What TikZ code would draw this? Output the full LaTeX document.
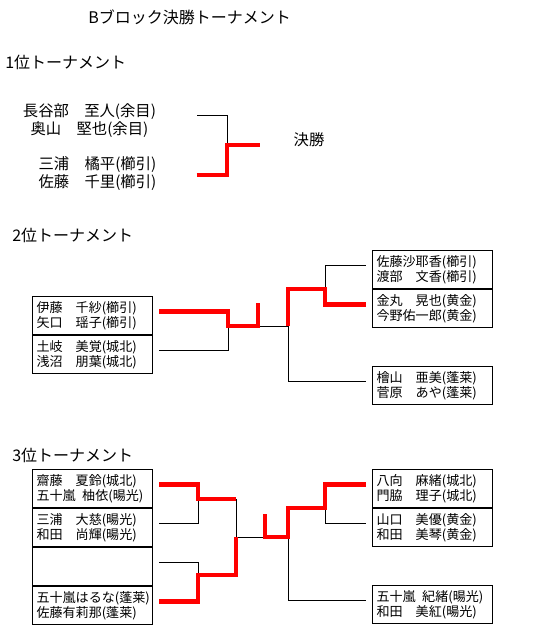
\documentclass[tikz,border=0pt]{standalone}
\usepackage{fontspec}
\setmainfont{Noto Sans CJK JP}
\usetikzlibrary{positioning,calc}

\begin{document}
\begin{tikzpicture}[
  x=0.75pt, y=-0.75pt,
  node distance=0pt,
  head/.style={anchor=west, inner sep=0pt, font=\fontsize{12}{14}\selectfont},
  pair/.style={align=center, inner sep=0pt, font=\fontsize{11.5}{13.4}\selectfont},
  cell/.style={
    rectangle, draw, line width=0.75pt,
    minimum width=90pt, minimum height=28.5pt,
    text width=84pt, inner sep=3pt, align=left,
    font=\fontsize{9.8}{11}\selectfont},
  lose/.style={line width=0.75pt},
  win/.style={red, line width=3.2pt},
]
  \useasboundingbox (0,0) rectangle (558,626);

  % ── Headings ────────────────────────────────────────────────────────────
  \node[head] (title) at (88,17)  {Bブロック決勝トーナメント};
  \node[head] (h1)    at (5,62)   {1位トーナメント};
  \node[head] (h2)    at (12,235) {2位トーナメント};
  \node[head] (h3)    at (12,455) {3位トーナメント};

  % ── 1位: two pairs and the final ────────────────────────────────────────
  \node[pair] (p1a)  at (89.5,121)  {長谷部　至人(余目)\\奥山　堅也(余目)};
  \node[pair] (p1b)  at (97.5,173.5){三浦　橘平(櫛引)\\佐藤　千里(櫛引)};
  \node[pair] (fin1) at (309,140)   {決勝};

  \coordinate (j1) at (227,145);
  \draw[lose] ($(p1a.east)+(41,-6)$) -| (j1);
  \draw[win]  ($(p1b.east)+(40,1.5)$) -| (j1) -- ++(33,0);

  % ── 2位: cells ──────────────────────────────────────────────────────────
  \node[cell, anchor=north west] (s2a) at (32,296)
      {伊藤　千紗(櫛引)\\矢口　瑶子(櫛引)};
  \node[cell, below=of s2a] (s2b)
      {土岐　美覚(城北)\\浅沼　朋葉(城北)};
  \node[cell, anchor=north west] (s2c) at (372,250)
      {佐藤沙耶香(櫛引)\\渡部　文香(櫛引)};
  \node[cell, below=of s2c] (s2d)
      {金丸　晃也(黄金)\\今野佑一郎(黄金)};
  \node[cell, below=28.5pt of s2d] (s2e)
      {檜山　亜美(蓬莱)\\菅原　あや(蓬莱)};

  % ── 2位: bracket ────────────────────────────────────────────────────────
  \coordinate (l2) at (228,326);
  \coordinate (m2) at (258,326);
  \coordinate (f2) at (288,326);
  \coordinate (k2) at (325,289);
  \draw[lose] ($(s2b.east)+(6,-4)$) -| (l2);
  \draw[lose] (m2) -- (f2);
  \draw[lose] (k2) |- ($(s2c.west)+(-6,-4)$);
  \draw[lose] (f2) |- ($(s2e.west)+(-6,-4)$);
  \draw[win]  ($(s2a.east)+(6,-4)$) -| (l2) -- (m2) -- ++(0,-23);
  \draw[win]  (f2) |- (k2) |- ($(s2d.west)+(-6,-4)$);

  % ── 3位: cells ──────────────────────────────────────────────────────────
  \node[cell, anchor=north west] (s3a) at (32,469)
      {齋藤　夏鈴(城北)\\五十嵐\enspace 柚依(暘光)};
  \node[cell, below=of s3a] (s3b)
      {三浦　大慈(暘光)\\和田　尚輝(暘光)};
  \node[cell, below=of s3b] (s3c) {};
  \node[cell, below=of s3c] (s3d)
      {五十嵐はるな(蓬莱)\\佐藤有莉那(蓬莱)};
  \node[cell, anchor=north west] (s3e) at (372,469)
      {八向　麻緒(城北)\\門脇　理子(城北)};
  \node[cell, below=of s3e] (s3f)
      {山口　美優(黄金)\\和田　美琴(黄金)};
  \node[cell, below=28.5pt of s3f] (s3g)
      {五十嵐\enspace 紀緒(暘光)\\和田　美紅(暘光)};

  % ── 3位: bracket ────────────────────────────────────────────────────────
  \coordinate (a3) at (198,499);
  \coordinate (t3) at (236,499);
  \coordinate (b3) at (198,575);
  \coordinate (c3) at (236,537);
  \coordinate (m3) at (265,537);
  \coordinate (f3) at (288,537);
  \coordinate (k3) at (325,508);
  \draw[lose] ($(s3b.east)+(6,-4)$) -| (a3);
  \draw[lose] ($(s3c.east)+(6,-4)$) -| (b3);
  \draw[lose] (t3) -- (c3) -- (m3);
  \draw[lose] (k3) |- ($(s3f.west)+(-6,-4)$);
  \draw[lose] (f3) |- ($(s3g.west)+(-6,-4)$);
  \draw[win]  ($(s3a.east)+(6,-4)$) -| (a3) -- (t3);
  \draw[win]  ($(s3d.east)+(6,-4)$) -| (b3) -| (c3);
  \draw[win]  ($(m3)+(0,-23)$) -- (m3) -- (f3) |- (k3)
      |- ($(s3e.west)+(-6,-4)$);

\end{tikzpicture}
\end{document}
